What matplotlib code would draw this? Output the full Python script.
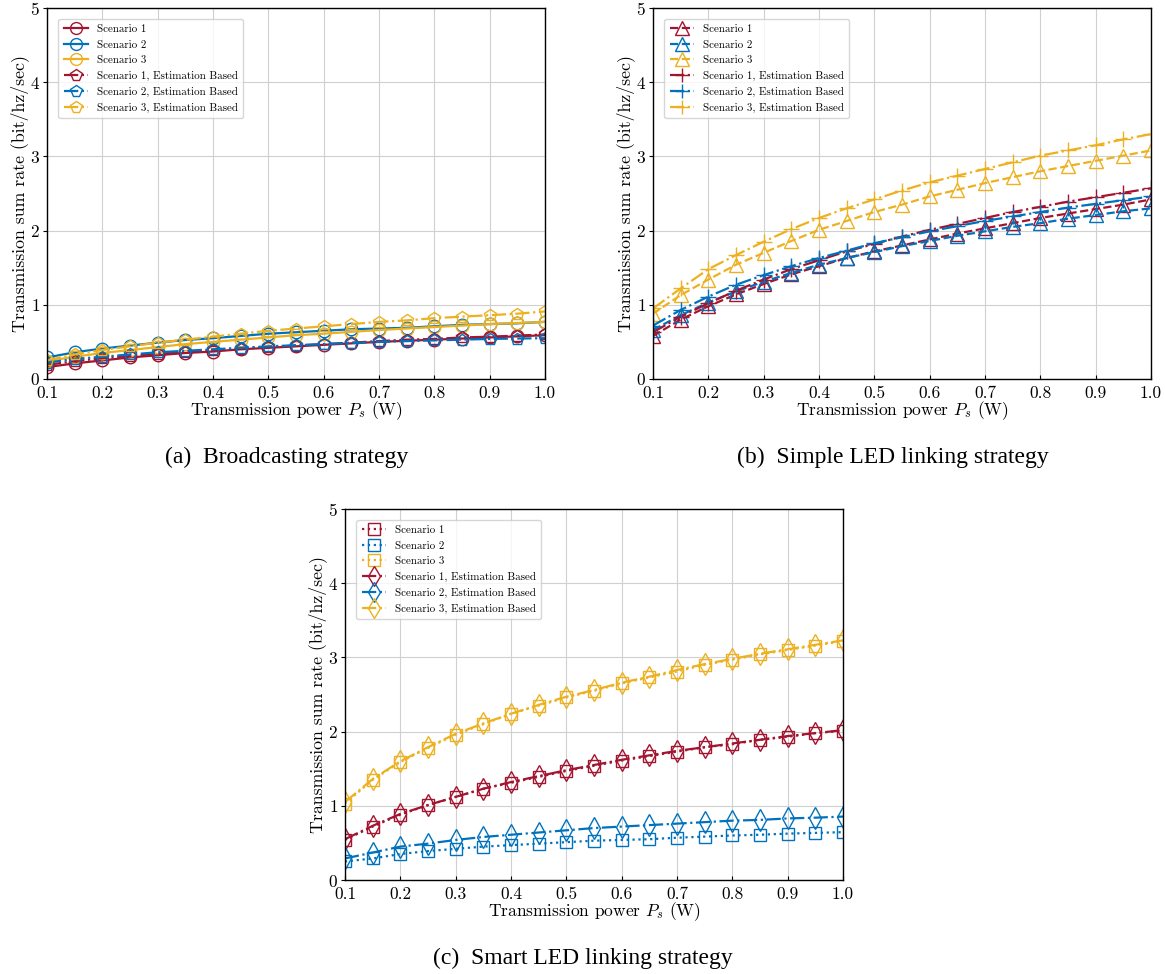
import numpy as np
import matplotlib
matplotlib.use('Agg')
import matplotlib.pyplot as plt

plt.rcParams['font.family'] = 'cmr10'
plt.rcParams['mathtext.fontset'] = 'cm'
plt.rcParams['axes.formatter.use_mathtext'] = True

# transmission power P_s (W)
power = [0.10, 0.15, 0.20, 0.25, 0.30, 0.35, 0.40, 0.45, 0.50, 0.55,
         0.60, 0.65, 0.70, 0.75, 0.80, 0.85, 0.90, 0.95, 1.00]

# (a) broadcasting strategy
bc_s1 = [0.16, 0.21, 0.25, 0.29, 0.32, 0.35, 0.37, 0.40, 0.42, 0.44,
         0.46, 0.48, 0.50, 0.515, 0.53, 0.545, 0.56, 0.575, 0.59]
bc_s2 = [0.29, 0.36, 0.41, 0.45, 0.49, 0.525, 0.55, 0.58, 0.61, 0.63,
         0.65, 0.67, 0.68, 0.69, 0.71, 0.73, 0.74, 0.75, 0.77]
bc_s3 = [0.24, 0.30, 0.35, 0.39, 0.43, 0.47, 0.50, 0.53, 0.56, 0.59,
         0.61, 0.635, 0.66, 0.68, 0.70, 0.72, 0.74, 0.755, 0.77]
bc_s1_est = [0.19, 0.24, 0.28, 0.31, 0.34, 0.37, 0.39, 0.41, 0.43, 0.45,
             0.47, 0.49, 0.51, 0.53, 0.54, 0.56, 0.57, 0.585, 0.60]
bc_s2_est = [0.22, 0.27, 0.30, 0.33, 0.36, 0.38, 0.40, 0.42, 0.44, 0.455,
             0.47, 0.485, 0.50, 0.51, 0.52, 0.53, 0.54, 0.545, 0.55]
bc_s3_est = [0.25, 0.33, 0.39, 0.44, 0.49, 0.53, 0.57, 0.61, 0.65, 0.68,
             0.71, 0.74, 0.77, 0.79, 0.82, 0.84, 0.86, 0.88, 0.91]

# (b) simple LED linking strategy
simple_s1 = [0.58, 0.80, 0.98, 1.14, 1.28, 1.41, 1.52, 1.63, 1.72, 1.80,
             1.88, 1.96, 2.03, 2.10, 2.17, 2.23, 2.29, 2.35, 2.42]
simple_s2 = [0.66, 0.86, 1.03, 1.18, 1.31, 1.43, 1.54, 1.63, 1.71, 1.79,
             1.86, 1.93, 1.99, 2.05, 2.10, 2.16, 2.21, 2.26, 2.30]
simple_s3 = [0.88, 1.13, 1.34, 1.54, 1.70, 1.86, 2.01, 2.13, 2.25, 2.35,
             2.46, 2.55, 2.64, 2.72, 2.80, 2.87, 2.94, 3.01, 3.08]
simple_s1_est = [0.63, 0.84, 1.02, 1.19, 1.34, 1.48, 1.60, 1.72, 1.82, 1.92,
                 2.01, 2.09, 2.17, 2.25, 2.32, 2.39, 2.45, 2.51, 2.57]
simple_s2_est = [0.72, 0.93, 1.11, 1.27, 1.40, 1.52, 1.63, 1.73, 1.83, 1.91,
                 1.99, 2.06, 2.13, 2.19, 2.25, 2.31, 2.36, 2.41, 2.46]
simple_s3_est = [0.95, 1.22, 1.48, 1.67, 1.85, 2.02, 2.17, 2.30, 2.42, 2.54,
                 2.65, 2.74, 2.83, 2.92, 3.01, 3.08, 3.15, 3.23, 3.30]

# (c) smart LED linking strategy
smart_s1 = [0.54, 0.72, 0.88, 1.01, 1.12, 1.23, 1.31, 1.39, 1.47, 1.54,
            1.61, 1.67, 1.73, 1.79, 1.83, 1.89, 1.93, 1.98, 2.01]
smart_s2 = [0.25, 0.29, 0.35, 0.39, 0.42, 0.45, 0.47, 0.49, 0.51, 0.53,
            0.54, 0.55, 0.57, 0.585, 0.60, 0.61, 0.625, 0.635, 0.645]
smart_s3 = [1.03, 1.35, 1.59, 1.78, 1.96, 2.10, 2.24, 2.35, 2.46, 2.55,
            2.65, 2.73, 2.81, 2.90, 2.97, 3.04, 3.10, 3.16, 3.22]
smart_s1_est = [0.55, 0.73, 0.89, 1.01, 1.12, 1.23, 1.32, 1.40, 1.48, 1.55,
                1.62, 1.68, 1.74, 1.79, 1.84, 1.89, 1.94, 1.98, 2.02]
smart_s2_est = [0.29, 0.37, 0.45, 0.49, 0.54, 0.58, 0.61, 0.64, 0.67, 0.70,
                0.72, 0.74, 0.76, 0.78, 0.80, 0.81, 0.83, 0.84, 0.855]
smart_s3_est = [1.05, 1.36, 1.60, 1.79, 1.97, 2.11, 2.24, 2.36, 2.47, 2.56,
                2.66, 2.74, 2.83, 2.91, 2.98, 3.05, 3.11, 3.17, 3.23]

labels = ['Scenario 1', 'Scenario 2', 'Scenario 3',
          'Scenario 1, Estimation Based', 'Scenario 2, Estimation Based',
          'Scenario 3, Estimation Based']
colors = ['#A2142F', '#0072BD', '#EDB120']
x_ticks = [0.1, 0.2, 0.3, 0.4, 0.5, 0.6, 0.7, 0.8, 0.9, 1.0]
x_tick_labels = ['0.1', '0.2', '0.3', '0.4', '0.5', '0.6', '0.7', '0.8', '0.9', '1.0']
y_ticks = [0, 1, 2, 3, 4, 5]


def draw_panel(ax, base, est, base_style, base_marker, est_marker, base_ms, est_ms):
    for i in range(3):
        ax.plot(power, base[i], linestyle=base_style, marker=base_marker,
                color=colors[i], mfc='none', ms=base_ms, mew=1.0, lw=1.6,
                label=labels[i])
    for i in range(3):
        ax.plot(power, est[i], linestyle='-.', marker=est_marker,
                color=colors[i], mfc='none', ms=est_ms, mew=1.0, lw=1.6,
                label=labels[i + 3])
    ax.set_xlim(0.1, 1.0)
    ax.set_ylim(0, 5)
    ax.set_xticks(x_ticks)
    ax.set_xticklabels(x_tick_labels)
    ax.set_yticks(y_ticks)
    ax.grid(True, color='#d0d0d0', lw=0.8)
    ax.tick_params(axis='x', direction='in', labelsize=12.5, pad=4.5, length=3)
    ax.tick_params(axis='y', direction='out', labelsize=12.5, pad=2, length=3)
    for sp in ax.spines.values():
        sp.set_linewidth(1.0)
    ax.set_xlabel('Transmission power $P_s$ (W)', fontsize=12.5, labelpad=-1)
    ax.set_ylabel('Transmission sum rate (bit/hz/sec)', fontsize=12.8, labelpad=1)
    ax.legend(loc='upper left', fontsize=7.9, handlelength=2.2, markerscale=0.95,
              borderpad=0.5, labelspacing=0.52, bbox_to_anchor=(0.012, 0.985),
              framealpha=0.8)


fig = plt.figure(figsize=(11.65, 9.74), dpi=100)

ax_a = fig.add_axes([0.0403, 0.6109, 0.4275, 0.3809])
draw_panel(ax_a, [bc_s1, bc_s2, bc_s3], [bc_s1_est, bc_s2_est, bc_s3_est],
           '-', 'o', 'p', 9, 9)

ax_b = fig.add_axes([0.5605, 0.6109, 0.4275, 0.3809])
draw_panel(ax_b, [simple_s1, simple_s2, simple_s3],
           [simple_s1_est, simple_s2_est, simple_s3_est],
           '--', '^', '+', 10, 11)

ax_c = fig.add_axes([0.2961, 0.0965, 0.4275, 0.3809])
draw_panel(ax_c, [smart_s1, smart_s2, smart_s3],
           [smart_s1_est, smart_s2_est, smart_s3_est],
           ':', 's', 'd', 9, 11)

cap = dict(family='Liberation Serif', fontsize=17, ha='center', va='center')
fig.text(287 / 1165, 1 - 457 / 974, '(a)  Broadcasting strategy', **cap)
fig.text(893 / 1165, 1 - 457 / 974, '(b)  Simple LED linking strategy', **cap)
fig.text(583 / 1165, 1 - 958 / 974, '(c)  Smart LED linking strategy', **cap)

fig.savefig('out.png', dpi=100)
